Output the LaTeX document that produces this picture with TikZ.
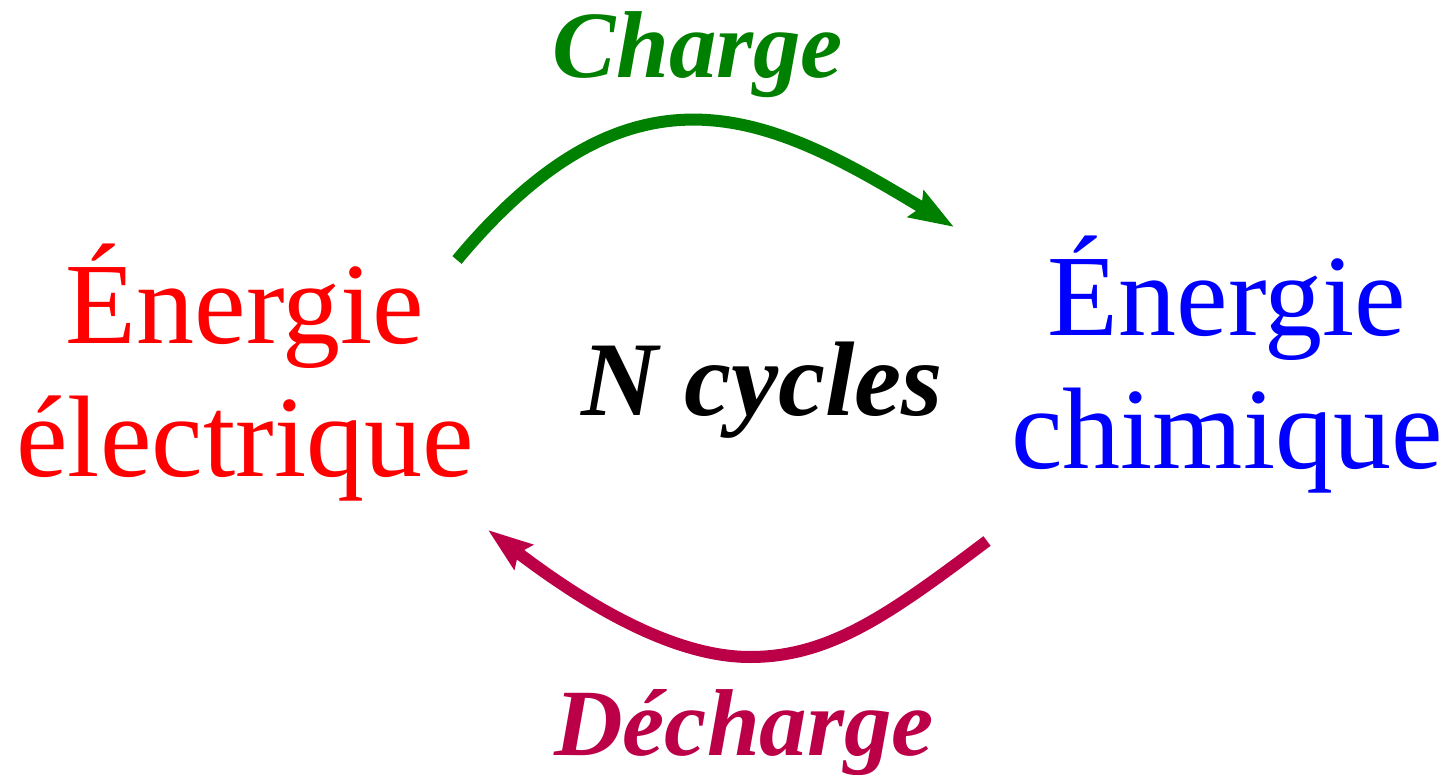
\documentclass[tikz,border=0pt]{standalone}
\usepackage{fontspec}
\setmainfont{Liberation Serif}
\usetikzlibrary{arrows.meta}

\definecolor{decharge}{RGB}{187,0,72}
\definecolor{vert}{RGB}{0,128,0}

\begin{document}
\begin{tikzpicture}[x=0.5pt,y=-0.5pt,
    energie/.style={align=center,inner sep=0pt,anchor=base,
      font=\fontsize{58}{66.5}\selectfont},
    titre/.style={inner sep=0pt,anchor=base,
      font=\fontsize{47.5}{50}\selectfont\bfseries\itshape},
    fleche/.style={line width=6pt,
      -{Stealth[length=22pt,width=15pt,inset=3pt]}}]

  % -------- CANVAS --------
  \useasboundingbox (0,0) rectangle (1451,775);

  % Energy forms (base = last line)
  \node[energie,text=red]  (elec) at (245,476) {Énergie\\électrique};
  \node[energie,text=blue] (chim) at (1227,468) {Énergie\\chimique};

  % Center label
  \node[inner sep=0pt,anchor=base,font=\fontsize{53}{56}\selectfont\bfseries\itshape]
    (cycles) at (762,415) {N cycles};

  % Arrow labels
  \node[titre,text=vert]     (charge)   at (698,78)  {Charge};
  \node[titre,text=decharge] (decharge) at (744,755) {Décharge};

  % Arrow ends
  \coordinate (chA) at (457,260);
  \coordinate (chB) at (954,227);
  \coordinate (deA) at (987,541);
  \coordinate (deM) at (750,657); % lowest point
  \coordinate (deB) at (488,530);

  % ---------- Cycle arrows ----------
  \draw[fleche,vert]     (chA) .. controls (636,45) and (774,118) .. (chB);
  \draw[fleche,decharge] (deA) .. controls (890,614) and (830,657) .. (deM)
                               .. controls (670,657) and (580,600) .. (deB);

\end{tikzpicture}
\end{document}
